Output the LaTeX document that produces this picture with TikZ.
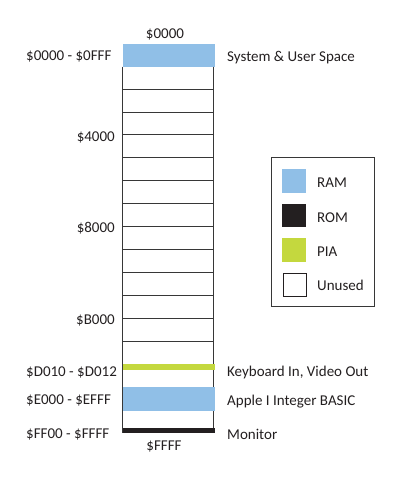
\documentclass[tikz,border=0pt]{standalone}
\usepackage{fontspec}
\setmainfont{Carlito}
\usepackage{tikz}
\definecolor{ramblue}{RGB}{144, 191, 231}
\definecolor{romblack}{RGB}{35, 31, 32}
\definecolor{piagreen}{RGB}{196, 216, 62}
\definecolor{gridgray}{RGB}{55, 55, 55}

\begin{document}
\begin{tikzpicture}[x=1pt, y=-1pt, font=\fontsize{15}{17}\selectfont,
    band/.style={inner sep=0, minimum width=92, anchor=north west},
    swatch/.style={inner sep=0, minimum width=24, minimum height=23.5, anchor=north west},
    leftlbl/.style={anchor=base east, inner sep=0, text=romblack},
    rightlbl/.style={anchor=base west, inner sep=0, text=romblack},
    midlbl/.style={anchor=base, inner sep=0, text=romblack}]
    \useasboundingbox (0,0) rectangle (400,479);

    % Memory column
    \node[band, fill=ramblue, minimum height=23.4] (sysband) at (122.3,43.3) {};
    \draw[gridgray, line width=1pt] (122.8,66.7) -- (122.8,432.7);
    \draw[gridgray, line width=1pt] (213.8,66.7) -- (213.8,432.7);
    \foreach \k in {2,...,13}
        \draw[gridgray, line width=0.9pt] (122.3,43.3+\k*22.9) -- (214.3,43.3+\k*22.9);
    \node[band, fill=piagreen, minimum height=6] (pioband) at (122.3,364) {};
    \node[band, fill=ramblue, minimum height=23.5] (basicband) at (122.3,386.8) {};
    \node[band, fill=romblack, minimum height=5.4] (monband) at (122.3,427.3) {};

    % Addresses
    \node[midlbl] (topaddr) at (165,38.3) {\$0000};
    \node[midlbl] (botaddr) at (164,450) {\$FFFF};
    \node[rightlbl] (lblsys) at (26,60.7) {\$0000 - \$0FFF};
    \node[leftlbl] (lblfour) at (115,141) {\$4000};
    \node[leftlbl] (lbleight) at (115,232.3) {\$8000};
    \node[leftlbl] (lblbee) at (115,324.3) {\$B000};
    \node[rightlbl] (lblpio) at (26,376.3) {\$D010 - \$D012};
    \node[rightlbl] (lblbasic) at (26,404.3) {\$E000 - \$EFFF};
    \node[rightlbl] (lblmon) at (26,438.3) {\$FF00 - \$FFFF};

    % Regions
    \node[rightlbl] (txtsys) at (227,61) {System \& User Space};
    \node[rightlbl] (txtpio) at (227,376.7) {Keyboard In, Video Out};
    \node[rightlbl] (txtbasic) at (227,405) {Apple I Integer BASIC};
    \node[rightlbl] (txtmon) at (227,439) {Monitor};

    % Legend
    \draw[gridgray, line width=1pt] (271.5,157.5) rectangle (374.5,306.5);
    \node[swatch, fill=ramblue] (swram) at (282,169) {};
    \node[swatch, fill=romblack] (swrom) at (282,203.5) {};
    \node[swatch, fill=piagreen] (swpia) at (282,238) {};
    \node[swatch, draw=romblack, line width=1pt, minimum width=23, minimum height=22.5] (swfree) at (282.5,273) {};
    \node[rightlbl] (lgram) at (317,187.7) {RAM};
    \node[rightlbl] (lgrom) at (317,222.3) {ROM};
    \node[rightlbl] (lgpia) at (317,256.7) {PIA};
    \node[rightlbl] (lgfree) at (317,290) {Unused};
\end{tikzpicture}
\end{document}
